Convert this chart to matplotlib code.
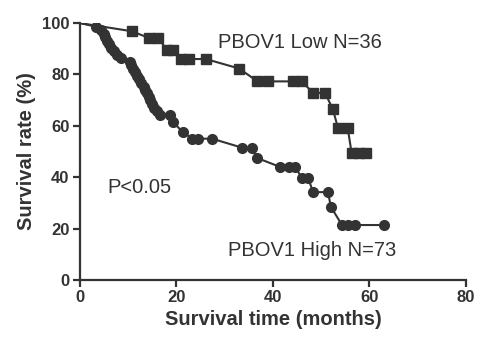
import matplotlib
matplotlib.use('Agg')
import matplotlib.pyplot as plt

plt.rcParams['font.family'] = ['Liberation Sans', 'DejaVu Sans']

# survival curves (months, %)
low_t = [0, 10.8, 14.3, 16.2, 18.0, 19.3, 20.9, 22.6, 26.1, 33.0, 36.8, 38.9,
         44.1, 46.0, 48.3, 50.8, 52.4, 53.5, 55.5, 56.3, 57.8, 59.2]
low_s = [100, 96.8, 94.2, 94.2, 89.7, 89.7, 86, 86, 86, 82.3, 77.3, 77.3,
         77.3, 77.3, 72.8, 72.8, 66.5, 59, 59, 49.4, 49.4, 49.4]

high_t = [0, 3.3, 4.3, 5.0, 5.3, 5.6, 6.0, 6.4, 7.0, 7.8, 8.5, 10.3, 10.7,
          11.1, 11.4, 11.8, 12.2, 12.7, 13.2, 13.6, 14.0, 14.3, 14.6, 15.0,
          15.4, 16.0, 16.6, 18.6, 19.3, 21.3, 23.3, 24.5, 27.4, 33.6,
          35.6, 36.7, 41.5, 43.3, 44.6, 46.0, 47.3, 48.3, 51.4, 52.0, 54.3,
          55.5, 57.0, 63.0]
high_s = [100, 98.6, 97.3, 95.9, 94.5, 93.2, 91.8, 90.4, 89.0, 87.7, 86.3,
          84.9, 83.6, 82.2, 80.8, 79.5, 78.1, 76.7, 75.3, 74.0, 72.6, 71.2,
          69.9, 68.5, 67.1, 65.8, 64.4, 64.4, 61.5, 57.6, 55, 55, 55, 51.5,
          51.5, 47.5, 44, 44, 44, 39.7, 39.7, 34.2, 34.2, 28.5, 21.4,
          21.4, 21.4, 21.4]

xticks = [0, 20, 40, 60, 80]
yticks = [0, 20, 40, 60, 80, 100]

col = '#333333'

fig = plt.figure(figsize=(4.78, 3.39), dpi=100)
ax = fig.add_axes([0.167, 0.174, 0.808, 0.758])

ax.plot(low_t, low_s, color=col, lw=1.5)
ax.plot(low_t[1:], low_s[1:], 's', color=col, ms=6.8, mec=col)
ax.plot(high_t, high_s, color=col, lw=1.5)
ax.plot(high_t[1:], high_s[1:], 'o', color=col, ms=7, mec=col)

ax.set_xlim(0, 80)
ax.set_ylim(0, 100)
ax.set_xticks(xticks)
ax.set_yticks(yticks)
ax.spines['top'].set_visible(False)
ax.spines['right'].set_visible(False)
for s in ['left', 'bottom']:
    ax.spines[s].set_linewidth(1.6)
    ax.spines[s].set_color(col)
ax.tick_params(width=1.6, length=5, color=col, labelcolor=col, labelsize=12,
               pad=2.5)
for lab in ax.get_xticklabels() + ax.get_yticklabels():
    lab.set_fontweight('bold')

ax.set_xlabel('Survival time (months)', fontsize=14.5, fontweight='bold',
              color=col, labelpad=3)
ax.set_ylabel('Survival rate (%)', fontsize=14.5, fontweight='bold',
              color=col, labelpad=4)

ax.text(28.6, 92.5, 'PBOV1 Low N=36', fontsize=14.5, color=col, va='center')
ax.text(5.8, 36, 'P<0.05', fontsize=14.5, color=col, va='center')
ax.text(30.7, 11.5, 'PBOV1 High N=73', fontsize=14.5, color=col, va='center')

fig.savefig('out.png', dpi=100)
